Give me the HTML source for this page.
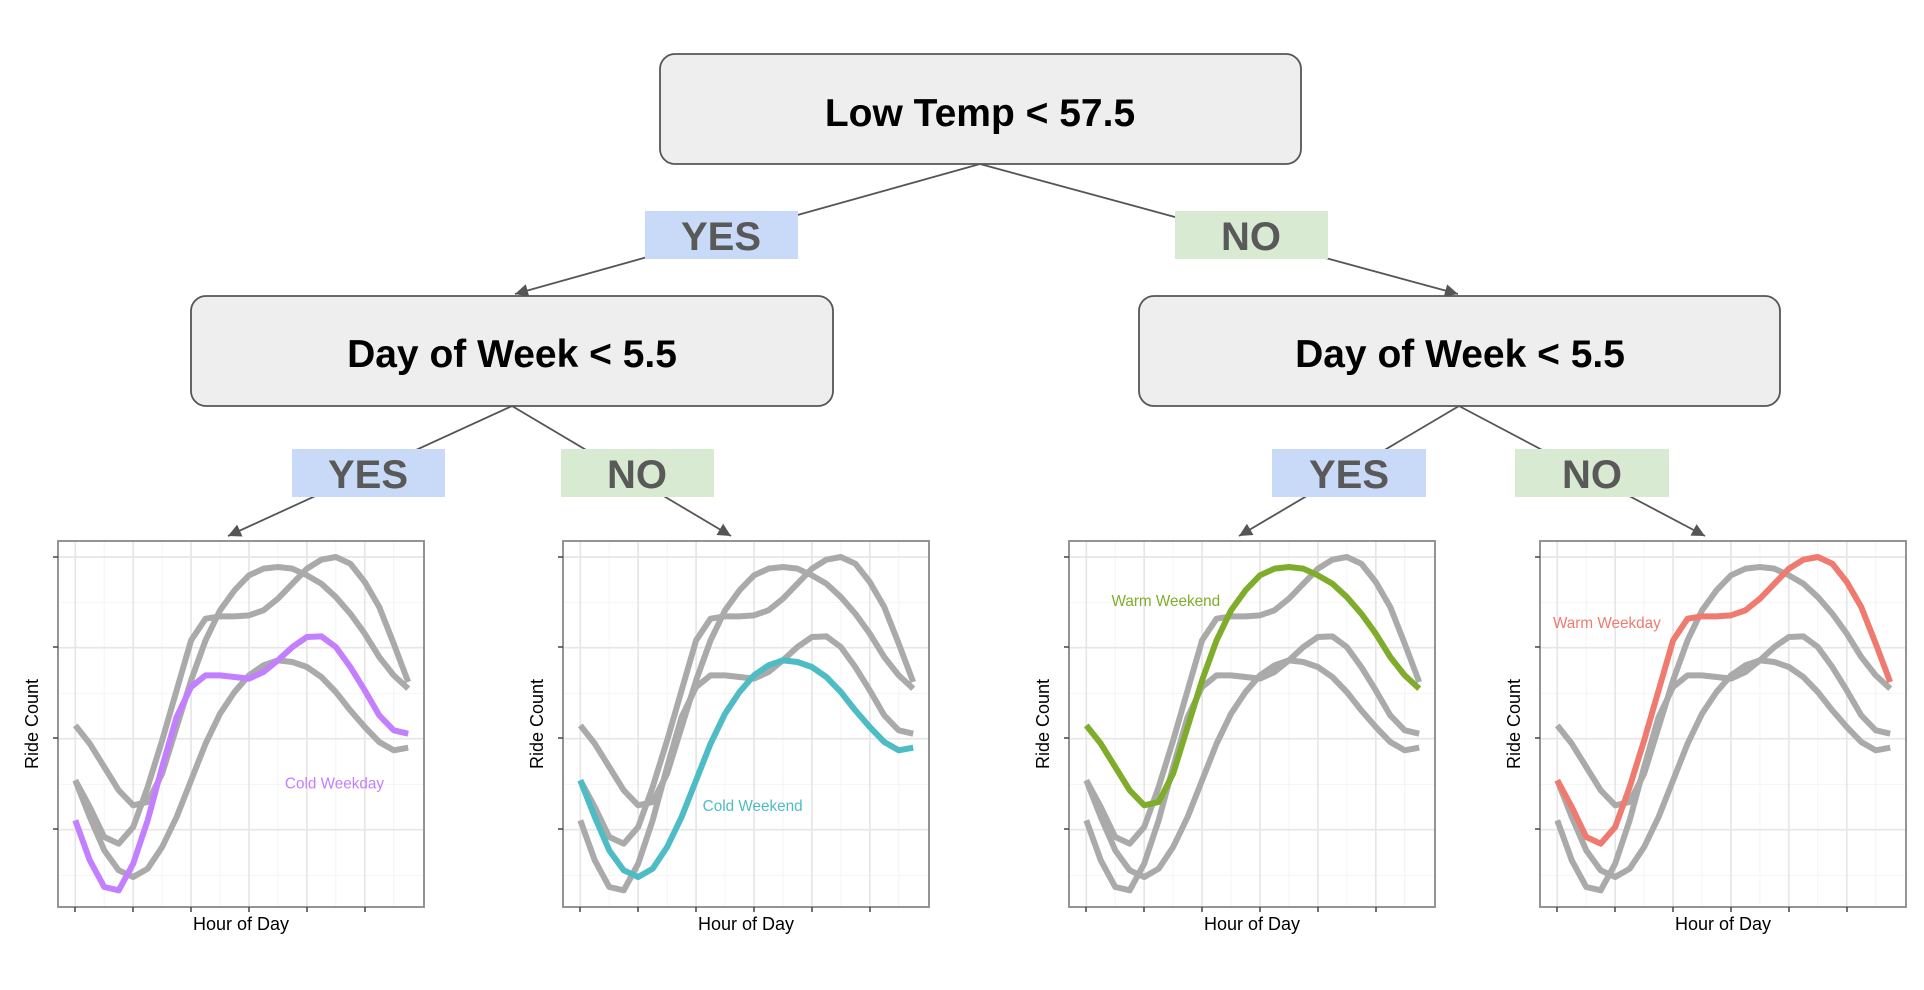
<!DOCTYPE html>
<html><head><meta charset="utf-8"><style>
html,body{margin:0;padding:0;background:#fff;}
svg{display:block;font-family:"Liberation Sans",Arial,sans-serif;}
</style></head><body>
<svg id="s" width="1924" height="990" viewBox="0 0 1924 990" xmlns="http://www.w3.org/2000/svg">
<defs>
<marker id="a" viewBox="0 0 10 10" refX="10" refY="5" markerWidth="16" markerHeight="13" markerUnits="userSpaceOnUse" orient="auto"><path d="M0,0 L10,5 L0,10 z" fill="#555"/></marker></defs>
<g stroke="#555" stroke-width="1.8" fill="none">
<line x1="980" y1="164" x2="515" y2="294" marker-end="url(#a)"/>
<line x1="980" y1="164" x2="1458" y2="294" marker-end="url(#a)"/>
<line x1="512" y1="406" x2="228" y2="536" marker-end="url(#a)"/>
<line x1="512" y1="406" x2="731" y2="536" marker-end="url(#a)"/>
<line x1="1459" y1="406" x2="1239" y2="536" marker-end="url(#a)"/>
<line x1="1459" y1="406" x2="1705" y2="536" marker-end="url(#a)"/>
</g>
<g stroke="#555" stroke-width="1.8" fill="#eeeeee">
<rect x="660" y="54" width="641" height="110" rx="15"/>
<rect x="191" y="296" width="642" height="110" rx="15"/>
<rect x="1139" y="296" width="641" height="110" rx="15"/>
</g>
<g font-weight="bold" font-size="39" text-anchor="middle" fill="#000">
<text x="980" y="126">Low Temp &lt; 57.5</text>
<text x="512" y="367">Day of Week &lt; 5.5</text>
<text x="1460" y="367">Day of Week &lt; 5.5</text>
</g>
<g>
<rect x="645" y="211" width="153" height="48" fill="#c9daf8"/>
<rect x="1175" y="211" width="153" height="48" fill="#d9ead3"/>
<rect x="292" y="449" width="153" height="48" fill="#c9daf8"/>
<rect x="561" y="449" width="153" height="48" fill="#d9ead3"/>
<rect x="1272" y="449" width="154" height="48" fill="#c9daf8"/>
<rect x="1515" y="449" width="154" height="48" fill="#d9ead3"/>
</g>
<g font-weight="bold" font-size="40" text-anchor="middle" fill="#595959">
<text x="721" y="250">YES</text><text x="1251" y="250">NO</text>
<text x="368" y="488">YES</text><text x="637" y="488">NO</text>
<text x="1349" y="488">YES</text><text x="1592" y="488">NO</text>
</g>
<g id="panels"></g>
</svg>
<script>
var C={
ww:[675,730,800,870,915,905,820,680,540,420,330,270,225,205,200,205,225,250,290,340,400,470,525,565],
wd:[840,920,1010,1030,980,860,720,570,420,355,348,348,345,330,295,250,205,178,170,190,245,320,430,545],
cd:[960,1080,1160,1170,1090,960,800,650,560,525,525,530,535,515,480,440,410,408,440,500,570,645,690,700],
ce:[840,950,1050,1110,1130,1105,1040,950,840,730,640,575,525,495,480,485,500,530,575,630,680,725,750,742]};
var P=[{x:58,k:'cd',c:'#c27fff',l:'Cold Weekday',lx:1003,ly:865},
{x:563,k:'ce',c:'#4dbcc4',l:'Cold Weekend',lx:742,ly:932},
{x:1069,k:'ww',c:'#7fad2b',l:'Warm Weekend',lx:463,ly:317},
{x:1540,k:'wd',c:'#ef7a6f',l:'Warm Weekday',lx:373,ly:383}];
function path(a){return 'M'+a.map(function(y,h){return (224+43.5*h)+','+y}).join(' L');}
var h='';
P.forEach(function(p){
 h+='<svg x="'+p.x+'" y="541" width="366" height="366" viewBox="172 122 1100 1098" preserveAspectRatio="none">';
 h+='<rect x="172" y="122" width="1100" height="1098" fill="#fff"/>';
 for(var i=0;i<7;i++){var x=137+174*i;h+='<line x1="'+x+'" y1="122" x2="'+x+'" y2="1220" stroke="#f4f4f4" stroke-width="3"/>';}
 [306,579,852,1125].forEach(function(y){h+='<line x1="172" y1="'+y+'" x2="1272" y2="'+y+'" stroke="#f4f4f4" stroke-width="3"/>';});
 for(var i=0;i<6;i++){var x=224+174*i;h+='<line x1="'+x+'" y1="122" x2="'+x+'" y2="1220" stroke="#e6e6e6" stroke-width="5"/>';}
 [170,442,715,988].forEach(function(y){h+='<line x1="172" y1="'+y+'" x2="1272" y2="'+y+'" stroke="#e6e6e6" stroke-width="5"/>';});
 for(var k in C){if(k!=p.k)h+='<path d="'+path(C[k])+'" fill="none" stroke="#aaaaaa" stroke-width="18" stroke-linejoin="round"/>';}
 h+='<path d="'+path(C[p.k])+'" fill="none" stroke="'+p.c+'" stroke-width="18" stroke-linejoin="round"/>';
 h+='<text x="'+p.lx+'" y="'+p.ly+'" text-anchor="middle" font-size="46" fill="'+p.c+'">'+p.l+'</text>';
 h+='</svg>';
 h+='<rect x="'+p.x+'" y="541" width="366" height="366" fill="none" stroke="#888" stroke-width="1.8"/>';
 [557,647,738,829].forEach(function(y){h+='<line x1="'+(p.x-5)+'" y1="'+y+'" x2="'+p.x+'" y2="'+y+'" stroke="#444" stroke-width="1.5"/>';});
 for(var i=0;i<6;i++){var x=p.x+17+58*i;h+='<line x1="'+x+'" y1="907" x2="'+x+'" y2="912" stroke="#444" stroke-width="1.5"/>';}
 h+='<text x="'+(p.x+183)+'" y="930" text-anchor="middle" font-size="18" fill="#000">Hour of Day</text>';
 h+='<text transform="translate('+(p.x-20)+',724) rotate(-90)" text-anchor="middle" font-size="18" fill="#000">Ride Count</text>';
});
document.getElementById('panels').innerHTML=h;
</script>
</body></html>
